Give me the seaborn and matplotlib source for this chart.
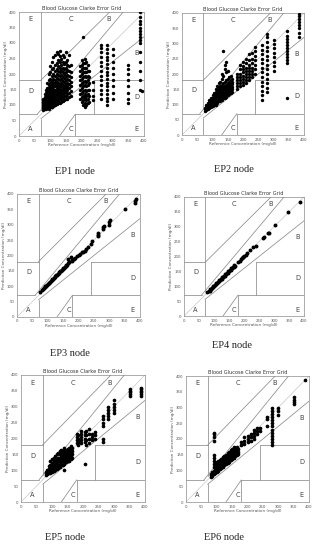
import pandas as pd
import numpy as np
import matplotlib
matplotlib.use("Agg")
import matplotlib.pyplot as plt
import seaborn as sns

### values (reference, prediction)
### one x value per column, with the predictions found in that column
ep1_ref = [78, 82, 86, 90, 95, 100, 105, 110, 115, 120, 125, 130, 135, 140, 145, 150, 155, 160, 165,
           195, 200, 205, 210, 215, 220, 225, 237, 263, 280, 300, 348, 388, 395]
ep1_pred = [
    [85, 90, 95, 100, 105, 110, 115, 120],
    [88, 92, 98, 103, 108, 114, 120, 126, 135],
    [86, 94, 100, 106, 112, 118, 125, 132, 140, 150],
    [90, 96, 102, 108, 115, 122, 130, 138, 146, 155, 170],
    [88, 95, 100, 108, 114, 120, 128, 136, 145, 155, 165, 180, 200],
    [92, 98, 105, 112, 118, 125, 132, 140, 148, 158, 170, 185, 205, 225],
    [95, 102, 110, 116, 124, 130, 138, 146, 155, 165, 178, 192, 215, 240],
    [98, 104, 112, 120, 128, 136, 144, 152, 162, 172, 185, 200, 220, 255],
    [100, 108, 116, 124, 132, 140, 150, 160, 170, 182, 195, 210, 230, 260],
    [102, 110, 118, 126, 135, 145, 155, 165, 175, 188, 200, 215, 235, 270],
    [105, 114, 122, 132, 142, 152, 162, 172, 184, 196, 210, 225, 245, 265],
    [108, 118, 128, 138, 148, 158, 168, 180, 192, 205, 220, 240, 258, 275],
    [110, 120, 130, 140, 150, 160, 172, 185, 198, 212, 228, 250],
    [112, 124, 135, 145, 155, 165, 178, 190, 205, 220, 240, 262],
    [115, 128, 140, 150, 162, 175, 188, 200, 215, 232, 255],
    [118, 130, 142, 155, 168, 180, 192, 205, 220, 240, 270],
    [120, 135, 148, 160, 172, 185, 198, 212, 228, 245],
    [125, 140, 155, 168, 180, 195, 210, 225, 260],
    [130, 145, 160, 175, 190, 205, 230],
    [120, 135, 150, 165, 180, 195, 210, 225],
    [110, 125, 140, 155, 170, 185, 200, 215, 230, 245],
    [100, 115, 130, 145, 160, 175, 190, 205, 220, 235, 320],
    [95, 108, 122, 136, 150, 164, 178, 192, 206, 220, 234, 250],
    [100, 115, 130, 145, 160, 175, 190, 205, 220, 240],
    [105, 120, 135, 150, 165, 180, 195, 210, 228],
    [110, 130, 150, 170, 190, 210],
    [115, 130, 150, 175],
    [120, 135, 150, 165, 180, 195, 210, 225, 240, 255, 270, 285, 295],
    [100, 112, 124, 136, 148, 160, 172, 184, 196, 208, 220, 232, 244, 256, 268, 280, 292],
    [120, 140, 160, 180, 200, 220, 240, 260, 280],
    [105, 120, 140, 160, 180, 200, 215, 228],
    [150, 180, 210, 240, 270, 300, 310, 320, 330, 340, 350, 360, 370, 385, 400],
    [145],
]

ep2_ref = [75, 80, 85, 90, 95, 100, 105, 110, 115, 120, 125, 130, 135, 140, 145, 150, 155, 160, 165,
           180, 190, 200, 210, 220, 230, 240, 263, 280, 300, 345, 385]
ep2_pred = [
    [80, 85, 90],
    [82, 88, 92, 98],
    [85, 90, 95, 100, 105],
    [88, 93, 98, 103, 108, 115],
    [92, 97, 102, 108, 114, 120],
    [95, 100, 105, 110, 116, 122, 130],
    [98, 104, 110, 116, 122, 130, 138],
    [100, 107, 114, 120, 127, 134, 142, 150],
    [105, 112, 119, 126, 133, 140, 148, 160],
    [110, 117, 124, 131, 138, 146, 155, 170],
    [112, 120, 128, 135, 142, 150, 160, 175],
    [115, 123, 131, 139, 147, 155, 165, 185, 200],
    [120, 128, 136, 144, 152, 160, 172, 195, 275],
    [122, 130, 138, 146, 154, 162, 175, 215, 230],
    [125, 133, 141, 149, 157, 165, 180, 205, 240],
    [130, 138, 146, 154, 162, 170, 185, 210],
    [135, 143, 151, 159, 167, 175, 190],
    [138, 146, 154, 162, 170, 180, 195],
    [142, 150, 158, 166, 174, 185],
    [150, 160, 170, 180, 190, 200],
    [160, 170, 180, 190, 200, 215, 230],
    [165, 175, 185, 195, 205, 215, 225, 240],
    [170, 180, 190, 200, 210, 220, 235, 250],
    [180, 190, 200, 210, 220, 230, 245, 265],
    [190, 200, 210, 220, 235, 250, 270],
    [200, 215, 230, 245, 260, 275, 290],
    [115, 130, 145, 160, 175, 190, 205, 220, 235, 250, 265, 280, 295],
    [140, 155, 170, 185, 200, 215, 230, 245, 260, 275, 290, 305, 320, 330],
    [210, 225, 240, 255, 270, 285, 300, 310],
    [122, 235, 245, 255, 265, 275, 285, 295, 305, 315, 325, 340],
    [320, 335, 350, 360, 370, 380, 390, 398],
]

ep3_ref = [75, 80, 85, 88, 90, 92, 95, 98, 100, 103, 105, 108, 110, 113, 115, 118, 120, 123, 125, 128,
           130, 133, 135, 138, 140, 143, 145, 148, 150, 153, 155, 158, 160, 163, 165, 165, 168, 170,
           175, 178, 180, 185, 190, 195, 200, 205, 210, 215, 220, 225, 230, 240, 245, 263, 263, 265,
           280, 280, 282, 300, 300, 302, 350, 385, 385, 387]
ep3_pred = [80, 88, 92, 95, 98, 100, 102, 105, 108, 110, 112, 115, 118, 120, 122, 125, 128, 130, 132, 135,
            135, 140, 142, 145, 148, 150, 152, 155, 158, 160, 162, 165, 168, 170, 175, 190, 178, 180,
            195, 182, 185, 190, 192, 198, 200, 205, 210, 212, 215, 220, 228, 238, 248, 265, 272, 268,
            285, 292, 295, 300, 310, 315, 352, 370, 378, 385]

ep4_ref = [78, 82, 85, 88, 90, 93, 95, 98, 100, 103, 105, 108, 110, 113, 115, 118, 120, 123, 125, 128,
           130, 133, 135, 138, 140, 143, 145, 148, 150, 153, 155, 158, 160, 163, 165, 168, 170, 180,
           185, 190, 193, 195, 198, 200, 205, 210, 220, 230, 240, 263, 265, 280, 282, 303, 348, 388]
ep4_pred = [80, 84, 85, 90, 92, 95, 96, 100, 102, 104, 106, 110, 112, 115, 116, 120, 122, 124, 126, 130,
            132, 134, 136, 140, 142, 144, 146, 150, 152, 154, 156, 160, 162, 164, 166, 170, 168, 182,
            186, 192, 195, 198, 200, 202, 206, 212, 222, 232, 235, 262, 265, 278, 280, 305, 348, 383]

ep5_ref = [80, 85, 90, 95, 100, 105, 110, 115, 120, 125, 130, 135, 140, 145, 150, 155, 160, 165,
           180, 185, 195, 205, 210, 220, 230, 240, 263, 280, 300, 350, 388]
ep5_pred = [
    [85, 90, 95],
    [88, 95, 100],
    [90, 98, 105, 112],
    [92, 100, 108, 118, 130],
    [95, 103, 112, 122, 135],
    [98, 108, 118, 128, 140],
    [100, 110, 120, 130, 145],
    [105, 115, 125, 135, 150],
    [108, 118, 128, 138, 155],
    [110, 120, 130, 140, 150, 160],
    [115, 125, 135, 145, 155, 165],
    [118, 128, 138, 148, 160],
    [100, 120, 130, 140, 150, 160, 170],
    [125, 135, 145, 155, 165],
    [128, 138, 148, 158, 168],
    [130, 140, 150, 160, 170],
    [135, 145, 155, 165, 175],
    [140, 150, 160, 170],
    [185, 195, 205, 215],
    [180, 190, 200, 210],
    [185, 195, 205, 215, 225],
    [120, 190, 200, 210, 220],
    [180, 195, 210, 225],
    [185, 200, 215, 230],
    [195, 205, 215],
    [200, 210, 220],
    [190, 200, 240, 250, 260, 270],
    [260, 270, 280, 290, 300],
    [280, 290, 300, 310, 320],
    [335, 340, 345, 350, 355],
    [335, 340, 345, 350, 355, 360],
]

ep6_ref = [80, 85, 90, 95, 100, 105, 110, 115, 120, 125, 130, 135, 140, 145, 150, 155, 160, 165, 170,
           180, 190, 200, 210, 220, 230, 240, 263, 280, 300, 350, 388]
ep6_pred = [
    [80, 85, 90],
    [84, 90, 95],
    [88, 95, 100, 110, 120, 130, 140, 150, 195, 205, 215, 220],
    [92, 98, 105, 112, 120, 128],
    [95, 102, 110, 118, 125],
    [100, 107, 114, 122, 130],
    [104, 111, 118, 126, 134],
    [108, 115, 122, 130, 138],
    [112, 119, 126, 134, 142],
    [116, 123, 130, 138, 146],
    [120, 127, 134, 142, 150],
    [124, 131, 138, 146, 155],
    [128, 135, 142, 150, 160],
    [132, 139, 146, 154, 165],
    [136, 143, 150, 158, 168],
    [140, 148, 156, 165, 175],
    [145, 153, 161, 170],
    [150, 158, 166, 175],
    [152, 160, 168],
    [180, 190],
    [185, 195, 205],
    [190, 200, 210],
    [195, 205, 215],
    [200, 210, 220, 230],
    [215, 225, 235],
    [225, 235],
    [240, 265, 270],
    [180, 190, 200, 210, 220, 230, 240, 250, 260, 270, 280, 290, 300],
    [275, 290, 300],
    [310, 318, 325, 332],
    [388],
]

captions = ["EP1 node", "EP2 node", "EP3 node", "EP4 node", "EP5 node", "EP6 node"]
ticks = [0, 50, 100, 150, 200, 250, 300, 350, 400]

W, H = 314, 545
# axes boxes in pixels: left, right, top, bottom
boxes = [(19, 144, 12, 136), (182, 304, 13, 135),
         (17, 140, 194, 317), (184, 304, 197, 316),
         (21, 145, 375, 502), (186, 309, 376, 502)]
cap_pos = [(75, 171), (234, 170), (70, 353), (232, 345), (65, 538), (224, 538)]

sns.set_style("white")
plt.rcParams['font.family'] = ['DejaVu Sans']

GRID = "#8c8c8c"
TXT = "#555555"


def to_frame(refs, preds):
    d = pd.DataFrame({"ref": refs, "pred": preds}).explode("pred")
    d["pred"] = d["pred"].astype(float)
    return d


def clarke_grid(ax):
    ax.plot([0, 400], [0, 400], '-', c="#c8c8c8", lw=0.5)
    segs = [([0, 175/3], [70, 70]), ([175/3, 400/1.2], [70, 400]), ([70, 70], [84, 400]),
            ([0, 70], [180, 180]), ([70, 290], [180, 400]), ([70, 70], [0, 56]),
            ([70, 400], [56, 320]), ([180, 180], [0, 70]), ([180, 400], [70, 70]),
            ([240, 240], [70, 180]), ([240, 400], [180, 180]), ([130, 180], [0, 70])]
    for xs, ys in segs:
        ax.plot(xs, ys, '-', c=GRID, lw=0.55)
    labels = [(30, 15, "A"), (370, 260, "B"), (280, 370, "B"), (160, 370, "C"), (160, 15, "C"),
              (30, 140, "D"), (370, 120, "D"), (30, 370, "E"), (370, 15, "E")]
    for x, y, s in labels:
        ax.text(x, y, s, fontsize=4.8, color="#444444")


fig = plt.figure(figsize=(W / 100, H / 100), dpi=100)

frames = [to_frame(ep1_ref, ep1_pred), to_frame(ep2_ref, ep2_pred),
          to_frame(ep3_ref, ep3_pred), to_frame(ep4_ref, ep4_pred),
          to_frame(ep5_ref, ep5_pred), to_frame(ep6_ref, ep6_pred)]
sizes = [6.0, 6.0, 8.0, 8.0, 7.0, 7.0]

for i, d in enumerate(frames):
    l, r, t, b = boxes[i]
    ax = fig.add_axes([l / W, 1 - b / H, (r - l) / W, (b - t) / H])
    clarke_grid(ax)
    sns.scatterplot(data=d, x="ref", y="pred", ax=ax, color="black", s=sizes[i],
                    linewidth=0, marker="o", zorder=3)
    ax.set_xlim(0, 400)
    ax.set_ylim(0, 400)
    ax.set_xticks(ticks)
    ax.set_yticks(ticks)
    ax.tick_params(labelsize=2.8, colors=TXT, length=1, width=0.3, pad=0.8)
    for sp in ax.spines.values():
        sp.set_color(GRID)
        sp.set_linewidth(0.5)
    ax.set_title("Blood Glucose Clarke Error Grid", fontsize=3.6, color="#333333", pad=1.5)
    ax.set_xlabel("Reference Concentration (mg/dl)", fontsize=3.0, color=TXT, labelpad=0.5)
    ax.set_ylabel("Prediction Concentration (mg/dl)", fontsize=3.0, color=TXT, labelpad=0.5)
    cx, cy = cap_pos[i]
    fig.text(cx / W, 1 - cy / H, captions[i], fontsize=7.5, family="Liberation Serif",
             ha="center", va="center", color="#222222")

plt.savefig("out.png", dpi=100)
